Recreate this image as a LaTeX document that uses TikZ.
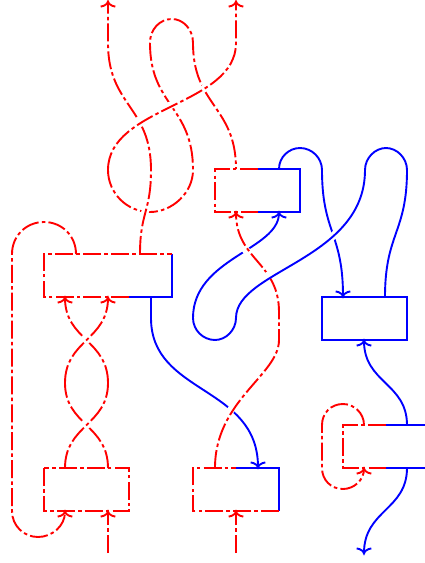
\documentclass[tikz,border=0pt]{standalone}
\usetikzlibrary{arrows.meta,calc}
\pgfdeclarearrow{
  name=KnotTip,
  setup code={
    \pgfarrowssettipend{0pt}
    \pgfarrowssetlineend{-1pt}
    \pgfarrowssetvisualbackend{-5pt}
    \pgfarrowssetbackend{-6pt}
    \pgfarrowshullpoint{0pt}{0pt}
    \pgfarrowshullpoint{-6pt}{7pt}
    \pgfarrowshullpoint{-6pt}{-7pt}
  },
  drawing code={
    \pgfsetdash{}{0pt}
    \pgfsetbuttcap
    \pgfsetlinewidth{1.9pt}
    \pgfpathmoveto{\pgfpoint{-5.6pt}{7.3pt}}
    \pgfpathcurveto{\pgfpoint{-5pt}{3.5pt}}{\pgfpoint{-3pt}{0.6pt}}{\pgfpoint{-0.6pt}{0pt}}
    \pgfpathcurveto{\pgfpoint{-3pt}{-0.6pt}}{\pgfpoint{-5pt}{-3.5pt}}{\pgfpoint{-5.6pt}{-7.3pt}}
    \pgfusepathqstroke
  }
}
\tikzset{
  strandline/.style={line width=1.9pt,line cap=butt,line join=miter},
  rd/.style={strandline,color=red,dash pattern=on 18pt off 3.2pt on 3.5pt off 3.2pt},
  bl/.style={strandline,color=blue},
  headed/.style={-{KnotTip}},
  halostroke/.style={draw=white,line width=7.5pt,shorten <=12pt,shorten >=12pt},
  boxnode/.style={inner sep=0pt,outer sep=0pt,minimum height=43pt,draw=none}
}
\newcommand{\overstrand}[2]{\path[halostroke] #2; \draw[#1] #2;}
\begin{document}
\begin{tikzpicture}[x=1pt,y=-1pt]
\useasboundingbox (0,0) rectangle (424,563);
\fill[white] (0,0) rectangle (424,563);
% box nodes
\node[boxnode,minimum width=128pt] (A) at (108,275.5) {};
\node[boxnode,minimum width=85pt] (B) at (257.5,190.5) {};
\node[boxnode,minimum width=85pt] (C) at (364.5,318.5) {};
\node[boxnode,minimum width=85pt] (D) at (86.5,489.5) {};
\node[boxnode,minimum width=86pt] (E) at (236,489.5) {};
\node[boxnode,minimum width=86pt] (F) at (386,446.5) {};
% free ends
\coordinate (top1) at (108,1);
\coordinate (top2) at (236,1);
\coordinate (bot1) at (108,553);
\coordinate (bot2) at (236,553);
\coordinate (bot3) at (364,554);
% ports
\coordinate (At1) at (76,254);
\coordinate (At2) at (140,254);
\coordinate (Ab1) at (65,297);
\coordinate (Ab2) at (108,297);
\coordinate (Ab3) at (151,297);
\coordinate (Bt1) at (236,169);
\coordinate (Bt2) at (279,169);
\coordinate (Bb1) at (236,212);
\coordinate (Bb2) at (279,212);
\coordinate (Ct1) at (343,297);
\coordinate (Ct2) at (385,297);
\coordinate (Cb) at (364,340);
\coordinate (Dt1) at (65,468);
\coordinate (Dt2) at (108,468);
\coordinate (Db1) at (65,511);
\coordinate (Db2) at (108,511);
\coordinate (Et1) at (215,468);
\coordinate (Et2) at (258,468);
\coordinate (Eb) at (236,511);
\coordinate (Ft1) at (364,425);
\coordinate (Ft2) at (407,425);
\coordinate (Fb1) at (364,468);
\coordinate (Fb2) at (407,468);
% straight feeds
\draw[rd,headed] (bot1) -- (Db2);
\draw[rd,headed] (bot2) -- (Eb);
% left loop
\draw[rd,headed] (At1) .. controls (76,236) and (62,222) .. (44,222)
  .. controls (26,222) and (12,236) .. (12,254) -- (12,511)
  .. controls (12,526) and (24,537) .. (38,537)
  .. controls (52,537) and (65,526) .. (Db1);
% twists, under parts
\draw[rd] (Dt2) .. controls (108,425) and (65,425) .. (65,383);
\draw[rd,headed] (108,383) .. controls (108,340) and (65,340) .. (Ab1);
% twists, over parts
\overstrand{rd}{(Dt1) .. controls (65,425) and (108,425) .. (108,383)}
\overstrand{rd,headed}{(65,383) .. controls (65,340) and (108,340) .. (Ab2)}
% upper red knot
\draw[rd] (108,170) .. controls (108,193) and (127,212) .. (150,212)
  .. controls (172,212) and (193,193) .. (193,170)
  .. controls (193,106) and (150,106) .. (150,43)
  .. controls (150,29) and (160,19) .. (172,19)
  .. controls (183,19) and (193,29) .. (193,43)
  .. controls (193,106) and (236,106) .. (Bt1);
\overstrand{rd,headed}{(At2) .. controls (140,212) and (151,212) .. (151,170)
  .. controls (151,106) and (108,106) .. (108,43) -- (top1)}
\overstrand{rd,headed}{(108,170) .. controls (108,106) and (236,106) .. (236,43) -- (top2)}
% blue strands
\draw[bl,headed] (Ab3) -- (151,318) .. controls (151,395) and (258,385) .. (Et2);
\draw[bl,headed] (Bt2) .. controls (279,157) and (289,148) .. (300,148)
  .. controls (312,148) and (322,158) .. (322,170)
  .. controls (322,233) and (343,233) .. (Ct1);
\draw[bl,headed] (236,318) .. controls (236,330) and (226,340) .. (215,340)
  .. controls (203,340) and (193,330) .. (193,318)
  .. controls (193,258) and (279,250) .. (Bb2);
% red strand over blue
\overstrand{rd,headed}{(Et1) .. controls (215,400) and (279,375) .. (279,340)
  -- (279,312) .. controls (279,262) and (236,260) .. (Bb1)}
% blue strand over both
\overstrand{bl}{(236,318) .. controls (236,270) and (365,260) .. (365,170)
  .. controls (365,158) and (375,148) .. (386,148)
  .. controls (397,148) and (407,158) .. (407,170)
  .. controls (407,233) and (385,233) .. (Ct2)}
% right side
\draw[bl,headed] (Ft2) .. controls (407,383) and (364,383) .. (Cb);
\draw[bl,headed] (Fb2) .. controls (407,510) and (364,510) .. (bot3);
\draw[rd,headed] (Ft1) .. controls (364,413) and (354,404) .. (343,404)
  .. controls (331,404) and (322,413) .. (322,425) -- (322,468)
  .. controls (322,480) and (331,489) .. (343,489)
  .. controls (354,489) and (364,480) .. (Fb1);
% box outlines
\coordinate (Am) at ($(A.south west)!2/3!(A.south east)$);
\draw[bl] (Am) -- (A.south east) -- (A.north east);
\draw[rd] (Am) -- (A.south west) -- (A.north west) -- (A.north east);
\draw[bl] (B.north) -- (B.north east) -- (B.south east) -- (B.south);
\draw[rd] (B.north) -- (B.north west) -- (B.south west) -- (B.south);
\draw[bl] (C.north west) rectangle (C.south east);
\draw[rd] (D.north west) rectangle (D.south east);
\draw[bl] (E.north) -- (E.north east) -- (E.south east);
\draw[rd] (E.south east) -- (E.south west) -- (E.north west) -- (E.north);
\draw[bl] (F.north) -- (F.north east);
\draw[bl] (F.south) -- (F.south east);
\draw[rd] (F.north) -- (F.north west) -- (F.south west) -- (F.south);
\end{tikzpicture}
\end{document}
